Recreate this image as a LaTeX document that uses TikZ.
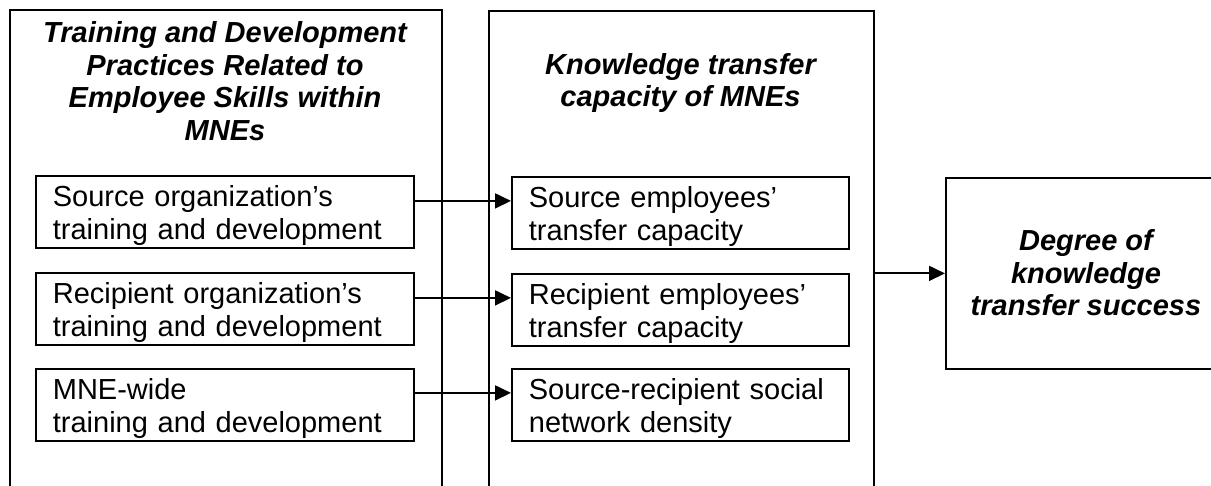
\documentclass[tikz,border=0pt]{standalone}
\usepackage{fontspec}
\setmainfont{Liberation Sans}
\usetikzlibrary{arrows.meta,positioning}
\begin{document}
\begin{tikzpicture}[x=1pt,y=-1pt,
  frame/.style={draw, line width=1.8pt, rectangle, inner sep=0pt, anchor=north west},
  itembox/.style={draw, line width=1.8pt, rectangle, anchor=north west,
    minimum height=72pt, inner xsep=17pt, inner ysep=0pt, align=left,
    text height=31pt, text depth=41pt,
    font=\fontsize{29}{33}\selectfont},
  heading/.style={align=center, inner sep=0pt,
    font=\fontsize{29}{32.5}\selectfont\bfseries\itshape},
  link/.style={line width=1.8pt, -{Triangle[length=16pt,width=15pt]}}]
\useasboundingbox (0,0) rectangle (1211,486);

% outer columns (they run on past the lower edge of the page)
\node[frame, minimum width=432pt, minimum height=540pt] (colA) at (9,9) {};
\node[frame, minimum width=385pt, minimum height=540pt] (colB) at (488,10) {};
\node[frame, minimum width=300pt, minimum height=191pt] (result) at (945,177) {};

% column headings
\node[heading] (headA) at (225,81) {Training and Development\\Practices Related to\\Employee Skills within\\MNEs};
\node[heading] (headB) at (680.5,83) {Knowledge transfer\\capacity of MNEs};
\node[heading] (headC) at (1086,273) {Degree of\\knowledge\\transfer success};

% training and development practices
\node[itembox, minimum width=378pt, text width=344pt] (a1) at (35,175) {Source organization’s\\training and development};
\node[itembox, minimum width=378pt, text width=344pt] (a2) at (35,272) {Recipient organization’s\\training and development};
\node[itembox, minimum width=378pt, text width=344pt] (a3) at (35,368) {MNE-wide\\training and development};

% transfer capacity
\node[itembox, minimum width=337pt, text width=303pt] (b1) at (511,176) {Source employees’\\transfer capacity};
\node[itembox, minimum width=337pt, text width=303pt] (b2) at (511,273) {Recipient employees’\\transfer capacity};
\node[itembox, minimum width=337pt, text width=303pt] (b3) at (511,368) {Source-recipient social\\network density};

% connectors
\draw[link] ([yshift=11pt]a1.east) -- ([yshift=11pt]a1.east -| b1.west);
\draw[link] ([yshift=11pt]a2.east) -- ([yshift=11pt]a2.east -| b2.west);
\draw[link] ([yshift=12pt]a3.east) -- ([yshift=12pt]a3.east -| b3.west);
\draw[link] (colB.east |- result.west) -- (result.west);
\end{tikzpicture}
\end{document}
